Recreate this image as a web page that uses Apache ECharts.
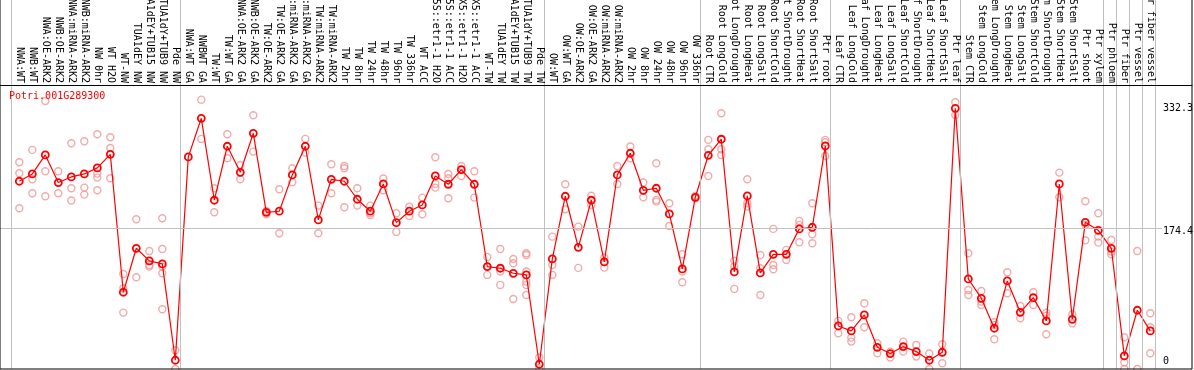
<!DOCTYPE html>
<html><head><meta charset="utf-8">
<script src="https://cdn.jsdelivr.net/npm/echarts@6.0.0/dist/echarts.min.js"></script>
<style>html,body{margin:0;padding:0;background:#fff}#c{width:1194px;height:370px}</style>
</head><body><div id="c"></div>
<script>
const geneId = 'Potri.001G289300';

const categories = [
  'NWA:WT','NWB:WT','NWA:OE-ARK2','NWB:OE-ARK2','NWA:miRNA-ARK2','NWB:miRNA-ARK2','NW 0hr','WT H2O','WT-NW',
  'TUA1dEY NW','TUA1dEY+TUB15 NW','TUA1dY+TUB9 NW','Pde NW',
  'NWA:WT GA','NWBWT GA','TW:WT','TW:WT GA','NWA:OE-ARK2 GA','NWB:OE-ARK2 GA','TW:OE-ARK2','TW:OE-ARK2 GA',
  'NWA:miRNA-ARK2 GA','NWB:miRNA-ARK2 GA','TW:miRNA-ARK2','TW:miRNA-ARK2','TW 2hr','TW 8hr','TW 24hr','TW 48hr',
  'TW 96hr','TW 336hr','WT ACC','35S::etr1-1 H2O','35S::etr1-1 ACC','LMX5::etr1-1 H2O','LMX5::etr1-1 ACC',
  'WT-TW','TUA1dEY TW','TUA1dEY+TUB15 TW','TUA1dY+TUB9 TW','Pde TW',
  'OW:WT','OW:WT GA','OW:OE-ARK2','OW:OE-ARK2 GA','OW:miRNA-ARK2','OW:miRNA-ARK2','OW 2hr','OW 8hr','OW 24hr',
  'OW 48hr','OW 96hr','OW 336hr',
  'Root CTR','Root LongCold','Root LongDrought','Root LongHeat','Root LongSalt','Root ShortCold','Root ShortDrought',
  'Root ShortHeat','Root ShortSalt','Ptr root',
  'Leaf CTR','Leaf LongCold','Leaf LongDrought','Leaf LongHeat','Leaf LongSalt','Leaf ShortCold','Leaf ShortDrought',
  'Leaf ShortHeat','Leaf ShortSalt','Ptr leaf',
  'Stem CTR','Stem LongCold','Stem LongDrought','Stem LongHeat','Stem LongSalt','Stem ShortCold','Stem ShortDrought',
  'Stem ShortHeat','Stem ShortSalt','Ptr shoot','Ptr xylem',
  'Ptr phloem','Ptr fiber','Ptr vessel','Ptr fiber vessel'
];

// sizes of the sample groups separated by vertical lines
const groupSizes = [13, 28, 12, 10, 10, 11, 1, 1, 1, 1];

const means = [
  232.1, 241.1, 264.4, 230.5, 237.4, 241.1, 248.5, 265.2, 95.8, 149.8, 134.3, 130.6, 12.3,
  262.0, 309.4, 208.8, 275.1, 243.1, 291.0, 194.0, 195.3, 239.9, 275.1, 184.6, 234.5, 232.1, 210.0,
  195.3, 228.8, 181.3, 195.3, 203.0, 238.6, 228.4, 246.4, 228.4, 127.3, 125.3, 119.1, 117.1, 7.4,
  136.7, 213.7, 151.0, 208.8, 133.0, 239.9, 266.5, 221.0, 223.5, 192.0, 124.4, 212.4,
  264.0, 283.7, 120.8, 214.1, 119.5, 142.4, 142.4, 173.6, 175.6, 275.5,
  54.4, 48.3, 67.9, 28.2, 20.5, 29.1, 22.9, 12.3, 22.1, 321.7,
  112.2, 88.4, 51.6, 109.7, 71.2, 89.2, 60.6, 228.8, 62.6, 181.7, 171.9,
  149.8, 17.6, 73.7, 48.3
];

const replicates = [
  [255.4, 241.9, 198.9], [270.6, 234.5, 217.4], [330.7, 244.4, 213.7], [244.4, 217.4],
  [278.8, 223.5, 208.4], [281.2, 224.3, 215.7], [289.8, 241.5, 236.6, 221.0], [286.1, 273.0, 235.8],
  [118.3, 100.7, 70.8], [185.4, 114.2], [146.5, 129.3, 127.3], [186.6, 149.0, 127.3, 119.1, 74.9],
  [24.6, 1.6],
  [], [332.3, 284.1], [223.5, 194.0], [289.8, 260.3], [252.1, 234.5], [313.1, 268.5], [195.7, 191.6],
  [222.3, 168.2], [248.1, 230.9], [284.1, 267.3], [202.2, 168.2], [253.0, 217.4], [250.9, 248.1, 200.2],
  [223.5, 202.2], [202.2, 192.8, 190.7], [235.4, 221.0], [192.8, 169.9], [201.0, 189.5], [212.0, 191.6],
  [261.6, 228.8, 224.3], [241.1, 235.8, 211.2], [250.9, 238.6], [244.4, 212.0], [139.2, 117.1],
  [149.0, 121.2, 104.8], [136.7, 131.4, 87.6], [143.7, 141.6, 121.2, 108.9, 104.8, 92.5], [15.6, 2.5],
  [164.1, 129.3, 117.1], [228.4, 197.7], [176.4, 125.7], [214.3, 203.0], [138.4, 126.1], [250.9, 228.8],
  [274.7, 260.3], [230.5, 212.4], [254.2, 209.2, 207.1], [205.1, 177.2], [142.4, 121.2, 108.1], [214.1, 211.2],
  [282.9, 271.4, 238.6], [315.6, 271.4, 264.4], [134.3, 127.3, 99.9], [234.5, 205.1, 201.0],
  [141.6, 125.3, 92.5], [173.6, 129.3, 124.0], [147.8, 135.5], [183.4, 178.5, 157.2], [205.1, 167.0, 156.0],
  [282.9, 280.0, 263.2],
  [60.6, 45.4], [65.1, 40.1, 35.2], [82.3, 52.8], [33.2, 20.9], [22.9, 15.6], [35.2, 22.9], [31.1, 16.8],
  [20.5, 1.6], [31.9, 8.6], [329.1, 313.5],
  [143.7, 98.6, 92.5], [97.4, 84.3, 80.2], [58.9, 55.7, 38.1], [120.3, 94.6], [79.0, 63.9], [95.8, 80.2],
  [70.8, 67.1, 44.2], [242.7, 212.4], [68.8, 57.7], [207.5, 178.5, 159.6], [192.8, 164.1, 156.8],
  [160.0, 145.7, 142.4], [40.5, 9.8, 1.6], [146.5, 1.6], [70.0, 52.8, 20.9]
];

const yLabelMax = 332.3;
const yLabelMid = 174.4;
const yLabelMin = 0;

// ---------------------------------------------------------------
const FONT = 'DejaVu Sans Mono';
const Y_MIN = -0.9, Y_MAX = 350.3;
const GRID_LINE = '#c0c0c0';

const boundaries = [0];
groupSizes.reduce((acc, s) => { acc += s; boundaries.push(acc); return acc; }, 0);

const repData = [];
replicates.forEach((arr, i) => arr.forEach(v => repData.push([i, v])));

const hidden = (gi, extra) => Object.assign({
  gridIndex: gi, type: 'value', show: false, min: 0, max: 1,
  axisLine: { show: false, onZero: false }, splitLine: { show: false }
}, extra || {});

function labelAxis(v, vAlign, lh) {
  return {
    gridIndex: 3, type: 'value', min: Y_MIN, max: Y_MAX, position: 'right',
    axisLine: { show: false, onZero: false }, axisTick: { show: false }, splitLine: { show: false },
    axisLabel: {
      customValues: [v], formatter: x => String(x), margin: 1,
      fontFamily: FONT, fontSize: 10, color: '#000', verticalAlign: vAlign, lineHeight: lh
    }
  };
}

const G = (o) => Object.assign({ outerBoundsMode: 'none', containLabel: false }, o);

const chart = echarts.init(document.getElementById('c'), null, { renderer: 'canvas' });
chart.setOption({
  animation: false,
  backgroundColor: '#fff',
  title: {
    text: geneId, left: 9, top: 91, padding: 0,
    textStyle: { color: '#ff0000', fontFamily: FONT, fontSize: 10, fontWeight: 'normal' }
  },
  grid: [
    G({ left: 0, top: -2, width: 1192, height: 371, show: true, borderColor: '#000', borderWidth: 1, backgroundColor: 'transparent', z: 10 }),
    G({ left: 0, top: 85, width: 1192, height: 284 }),
    G({ left: 11, top: 0, width: 1144, height: 369 }),
    G({ left: 0, top: 85, width: 1162, height: 286 }),
    G({ left: 12.8, top: 85, width: 1144, height: 286 })
  ],
  xAxis: [
    hidden(0),
    {
      gridIndex: 1, type: 'value', min: 0, max: 1, position: 'top', z: 10,
      axisLine: { show: true, onZero: false, lineStyle: { color: '#000', width: 1 } },
      axisTick: { show: false }, axisLabel: { show: false }, splitLine: { show: false }
    },
    hidden(2, { min: 0, max: categories.length }),
    hidden(3),
    {
      gridIndex: 4, type: 'category', data: categories, position: 'top', boundaryGap: true, z: 5,
      axisLine: { show: false, onZero: false }, axisTick: { show: false }, splitLine: { show: false },
      axisLabel: {
        rotate: 90, interval: 0, margin: 2, hideOverlap: false,
        fontFamily: FONT, fontSize: 10, color: '#000'
      }
    }
  ],
  yAxis: [
    hidden(0),
    hidden(1),
    hidden(2),
    labelAxis(yLabelMax, 'top', 17),
    labelAxis(yLabelMid, 'top', 6),
    labelAxis(yLabelMin, 'bottom', 17),
    hidden(4, { min: Y_MIN, max: Y_MAX })
  ],
  series: [
    {
      type: 'scatter', xAxisIndex: 2, yAxisIndex: 2, data: [], silent: true, z: 1,
      markLine: {
        silent: true, symbol: ['none', 'none'], label: { show: false }, animation: false,
        lineStyle: { color: GRID_LINE, width: 1, type: 'solid' },
        data: boundaries.map(b => ({ xAxis: b }))
      }
    },
    {
      type: 'scatter', xAxisIndex: 3, yAxisIndex: 4, data: [], silent: true, z: 1,
      markLine: {
        silent: true, symbol: ['none', 'none'], label: { show: false }, animation: false,
        lineStyle: { color: GRID_LINE, width: 1, type: 'solid' },
        data: [{ yAxis: yLabelMid }]
      }
    },
    {
      type: 'scatter', xAxisIndex: 4, yAxisIndex: 6, data: repData, z: 3,
      symbol: 'circle', symbolSize: 7,
      itemStyle: { color: 'rgba(0,0,0,0)', borderColor: '#ef9595', borderWidth: 1.4 }
    },
    {
      type: 'line', xAxisIndex: 4, yAxisIndex: 6, data: means, z: 4,
      symbol: 'circle', symbolSize: 7, showAllSymbol: true,
      lineStyle: { color: '#ff0000', width: 1.2 },
      itemStyle: { color: 'rgba(0,0,0,0)', borderColor: '#ff0000', borderWidth: 1.8 }
    }
  ]
});
</script>
</body></html>
